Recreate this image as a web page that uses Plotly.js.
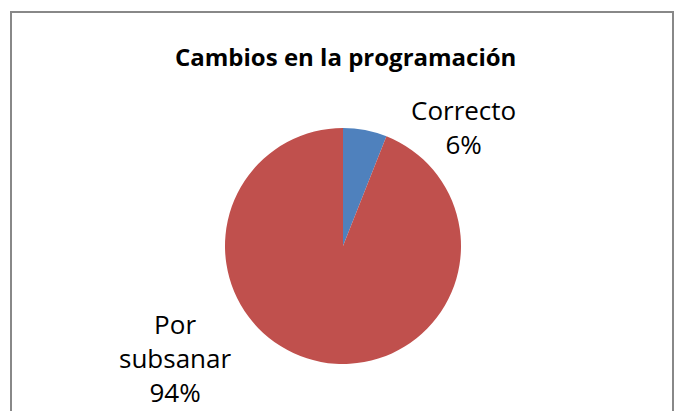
<!DOCTYPE html>
<html>
<head>
<meta charset="utf-8">
<script src="https://cdn.plot.ly/plotly-3.0.1.min.js"></script>
<style>html,body{margin:0;padding:0;background:#fff}#chart{width:676px;height:411px}</style>
</head>
<body>
<div id="chart"></div>
<script>
const categories = ["Correcto", "Por subsanar"];
const labelLines = ["Correcto", "Por<br>subsanar"];
const values = [6, 94];
const colors = ["#4F81BD", "#C0504D"];
const chartTitle = "Cambios en la programación";

const total = values.reduce((a, b) => a + b, 0);
const pct = values.map(v => Math.round(v / total * 100) + "%");

const W = 676, H = 411;
const cx = 343, cy = 246, r = 118;

const trace = {
  type: "pie",
  labels: categories,
  values: values,
  marker: { colors: colors, line: { width: 0 } },
  sort: false,
  direction: "clockwise",
  rotation: 0,
  textinfo: "none",
  hoverinfo: "label+percent",
  showlegend: false,
  domain: {
    x: [(cx - r) / W, (cx + r) / W],
    y: [(H - cy - r) / H, (H - cy + r) / H]
  }
};

const labelPos = [
  { x: 463, y: 127 },
  { x: 175, y: 358 }
];

const annotations = categories.map((c, i) => ({
  xref: "paper", yref: "paper",
  x: labelPos[i].x / W, y: 1 - labelPos[i].y / H,
  xanchor: "center", yanchor: "middle",
  text: labelLines[i] + "<br>" + pct[i],
  showarrow: false,
  align: "center",
  font: { family: "Open Sans", size: 26, color: "#000" }
}));

annotations.push({
  xref: "paper", yref: "paper",
  x: 345 / W, y: 1 - 57 / H,
  xanchor: "center", yanchor: "middle",
  text: "<b>" + chartTitle + "</b>",
  showarrow: false,
  font: { family: "Open Sans", size: 24, color: "#000" }
});

const layout = {
  width: W, height: H,
  margin: { l: 0, r: 0, t: 0, b: 0 },
  paper_bgcolor: "#fff",
  showlegend: false,
  annotations: annotations,
  shapes: [{
    type: "rect", xref: "paper", yref: "paper",
    x0: 11 / W, x1: 673 / W, y0: -0.05, y1: 1 - 12 / H,
    line: { color: "#888888", width: 2 }, fillcolor: "rgba(0,0,0,0)"
  }]
};

Plotly.newPlot("chart", [trace], layout, { displayModeBar: false, staticPlot: true });
</script>
</body>
</html>
